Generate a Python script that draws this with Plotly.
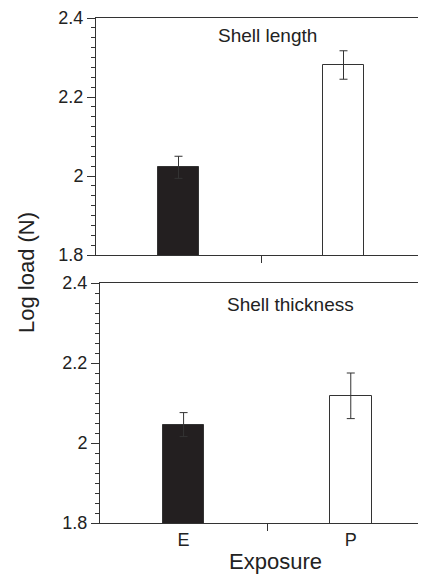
import plotly.graph_objects as go

categories = ["E", "P"]
cat_pos = [0, 1]
length_vals = [2.022, 2.281]
length_err = [0.028, 0.036]
thick_vals = [2.046, 2.118]
thick_err = [0.030, 0.057]
yticks = [1.8, 2.0, 2.2, 2.4]
yticktext = ["1.8", "2", "2.2", "2.4"]
panel_titles = ["Shell length", "Shell thickness"]

# page body has an 8px margin; figure is sized to fit inside the window
OFF = 8
W, H = 426 - OFF, 574 - OFF
FONT = "Liberation Sans, Arial, Helvetica, sans-serif"
LINE = "#333333"
fills = ["#231f20", "#ffffff"]

fig = go.Figure()

fig.add_trace(go.Bar(
    x=cat_pos, y=length_vals, width=0.25,
    marker=dict(color=fills, line=dict(color=LINE, width=1)),
    error_y=dict(type="data", array=length_err, color=LINE, thickness=1, width=4),
    xaxis="x", yaxis="y", showlegend=False,
))
fig.add_trace(go.Bar(
    x=cat_pos, y=thick_vals, width=0.25,
    marker=dict(color=fills, line=dict(color=LINE, width=1)),
    error_y=dict(type="data", array=thick_err, color=LINE, thickness=1, width=4),
    xaxis="x2", yaxis="y2", showlegend=False,
))

def yax(domain, anchor):
    return dict(
        domain=domain, anchor=anchor, range=[1.8, 2.4],
        tickvals=yticks, ticktext=yticktext,
        ticks="outside", ticklen=8, tickwidth=1, tickcolor=LINE,
        minor=dict(tickmode="linear", tick0=1.8, dtick=0.025, ticks="outside",
                   ticklen=4, tickwidth=1, tickcolor=LINE),
        showline=True, linecolor=LINE, linewidth=1,
        showgrid=False, zeroline=False,
        tickfont=dict(family=FONT, size=18, color="#222"),
    )

def xax(domain, anchor, rng, show_labels):
    return dict(
        domain=domain, anchor=anchor, range=rng,
        tickvals=cat_pos, ticktext=categories if show_labels else ["", ""],
        ticks="", showticklabels=show_labels,
        minor=dict(tickmode="array", tickvals=[0.5], ticks="outside",
                   ticklen=7, tickwidth=1, tickcolor=LINE),
        showline=True, linecolor=LINE, linewidth=1, mirror=True,
        showgrid=False, zeroline=False,
        tickfont=dict(family=FONT, size=18, color="#222"),
    )

def px_x(img_x):
    return (img_x - OFF) / W

def px_y(img_y):
    return 1 - (img_y - OFF) / H

fig.update_layout(
    width=W, height=H,
    margin=dict(l=0, r=0, t=0, b=0, autoexpand=False),
    paper_bgcolor="white", plot_bgcolor="white",
    xaxis=xax([px_x(96), 1], "y", [-0.5, 1.5], False),
    yaxis=yax([px_y(255), px_y(18)], "x"),
    xaxis2=xax([px_x(100), 1], "y2", [-0.5, 1.45], True),
    yaxis2=yax([px_y(523), px_y(283)], "x2"),
    bargap=0,
)

fig.add_annotation(text=panel_titles[0], xref="paper", yref="paper",
                   x=px_x(216), y=px_y(35), xanchor="left", yanchor="middle",
                   showarrow=False, font=dict(family=FONT, size=19, color="#222"))
fig.add_annotation(text=panel_titles[1], xref="paper", yref="paper",
                   x=px_x(225), y=px_y(304), xanchor="left", yanchor="middle",
                   showarrow=False, font=dict(family=FONT, size=19, color="#222"))
fig.add_annotation(text="Log load (N)", xref="paper", yref="paper",
                   x=px_x(26), y=px_y(273), xanchor="center", yanchor="middle",
                   textangle=-90, showarrow=False,
                   font=dict(family=FONT, size=22, color="#222"))
fig.add_annotation(text="Exposure", xref="paper", yref="paper",
                   x=px_x(275), y=px_y(561), xanchor="center", yanchor="middle",
                   showarrow=False, font=dict(family=FONT, size=22, color="#222"))

fig.write_html("out.html")
